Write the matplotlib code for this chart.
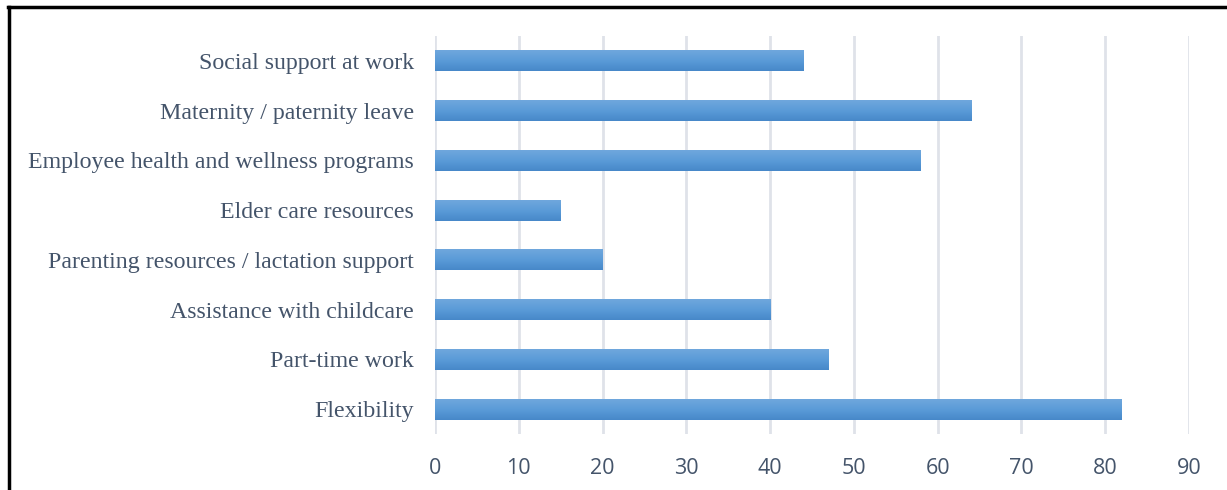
import numpy as np
import matplotlib.pyplot as plt
from matplotlib.colors import LinearSegmentedColormap
from matplotlib.lines import Line2D

categories = ["Flexibility", "Part-time work", "Assistance with childcare",
              "Parenting resources / lactation support", "Elder care resources",
              "Employee health and wellness programs", "Maternity / paternity leave",
              "Social support at work"]
values = [82, 47, 40, 20, 15, 58, 64, 44]
xticks = [0, 10, 20, 30, 40, 50, 60, 70, 80, 90]

text_color = "#44546a"
grid_color = "#dfe2e9"
bar_cmap = LinearSegmentedColormap.from_list("bar", ["#6fa7dd", "#5a9bd8", "#4788c9"])

fig = plt.figure(figsize=(12.27, 4.9), dpi=100)
ax = fig.add_axes([0.3545, 0.1143, 0.6145, 0.8122])

y = np.arange(len(categories))
bars = ax.barh(y, values, height=0.42, color="#5b9bd5", zorder=2)

# vertical gradient inside each bar
grad = np.linspace(0, 1, 64).reshape(-1, 1)
for b in bars:
    x0, y0 = b.get_x(), b.get_y()
    w, h = b.get_width(), b.get_height()
    im = ax.imshow(grad, cmap=bar_cmap, aspect="auto", origin="upper",
                   extent=[x0, x0 + w, y0, y0 + h], zorder=3, interpolation="bilinear")
    im.set_clip_path(b)

ax.set_xlim(0, 90)
ax.set_ylim(-0.5, len(categories) - 0.5)
ax.set_xticks(xticks)
ax.set_yticks(y)
ax.set_yticklabels(categories, family="Liberation Serif", fontsize=17.2, color=text_color)
ax.set_xticklabels([str(t) for t in xticks], family="Open Sans", fontsize=15.5, color=text_color)
ax.tick_params(axis="both", length=0)
ax.tick_params(axis="y", pad=15)
ax.tick_params(axis="x", pad=17)

ax.grid(axis="x", color=grid_color, linewidth=2, zorder=0)
ax.set_axisbelow(True)
for s in ax.spines.values():
    s.set_visible(False)

# outer frame: top and left edges only
fig.add_artist(Line2D([8 / 1227, 1], [1 - 7 / 490, 1 - 7 / 490], color="black",
                      linewidth=2.5, transform=fig.transFigure))
fig.add_artist(Line2D([9 / 1227, 9 / 1227], [0, 1 - 7 / 490], color="black",
                      linewidth=2.5, transform=fig.transFigure))

fig.savefig("out.png", dpi=100)
